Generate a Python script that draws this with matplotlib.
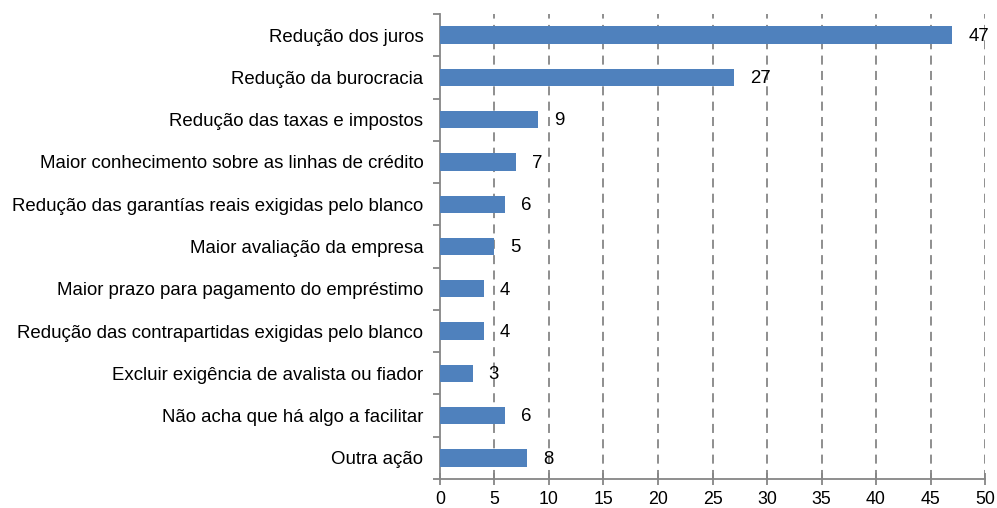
import matplotlib

matplotlib.use("Agg")

import matplotlib.pyplot as plt
import numpy as np

categories = [
    "Redução dos juros",
    "Redução da burocracia",
    "Redução das taxas e impostos",
    "Maior conhecimento sobre as linhas de crédito",
    "Redução das garantías reais exigidas pelo blanco",
    "Maior avaliação da empresa",
    "Maior prazo para pagamento do empréstimo",
    "Redução das contrapartidas exigidas pelo blanco",
    "Excluir exigência de avalista ou fiador",
    "Não acha que há algo a facilitar",
    "Outra ação",
]
values = [47, 27, 9, 7, 6, 5, 4, 4, 3, 6, 8]
x_ticks = list(range(0, 51, 5))

plt.rcParams["font.family"] = ["Liberation Sans", "DejaVu Sans"]
fs = 13.4

fig = plt.figure(figsize=(9.97, 5.08), dpi=100)
ax = fig.add_axes([0.4413, 0.0571, 0.988 - 0.4413, 0.9724 - 0.0571])

n = len(categories)
y = np.arange(n)
ax.barh(y, values, height=0.41, color="#4F81BD", zorder=3)
for yi, v in zip(y, values):
    ax.text(v + 1.45, yi + 0.03, str(v), va="center", ha="left", fontsize=fs, color="#000000")

ax.set_xlim(0, 50)
ax.set_ylim(n - 0.5, -0.5)
ax.set_xticks(x_ticks)
ax.set_yticks(y)
ax.set_yticklabels(categories, fontsize=fs)
ax.set_yticks(np.arange(-0.5, n, 1), minor=True)

for xv in x_ticks[1:]:
    ax.axvline(xv, color="#868686", linewidth=1.3, linestyle=(0, (5, 3.5)), zorder=1)

for s in ["top", "right"]:
    ax.spines[s].set_visible(False)
for s in ["left", "bottom"]:
    ax.spines[s].set_color("#868686")
    ax.spines[s].set_linewidth(1.3)

ax.tick_params(axis="y", which="major", length=0, pad=12)
ax.tick_params(axis="y", which="minor", length=5, width=1.3, color="#868686", direction="out")
ax.tick_params(axis="x", which="major", length=8, width=1.3, color="#868686",
               direction="inout", labelsize=12.8, pad=5)

fig.savefig("out.png", dpi=100)
plt.close(fig)
